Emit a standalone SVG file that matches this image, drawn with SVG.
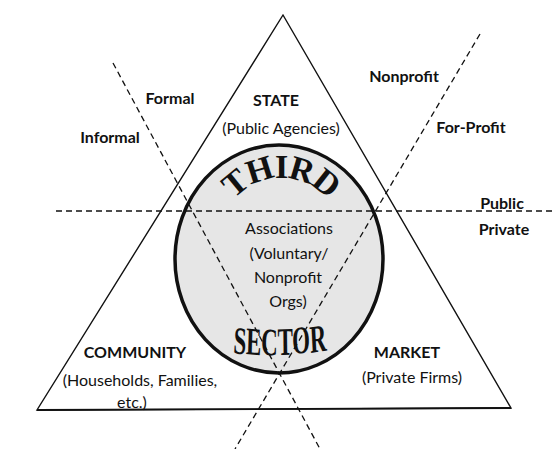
<svg xmlns="http://www.w3.org/2000/svg" width="556" height="449" viewBox="0 0 556 449">
  <style>
    .edge { fill: none; stroke: #111; stroke-width: 1.4; stroke-linejoin: miter; }
    .dash { fill: none; stroke: #111; stroke-width: 1.3; stroke-dasharray: 6 4; }
    .b { font-family: Lato, "Open Sans", "Liberation Sans", sans-serif; font-weight: bold; font-size: 16px; fill: #111; text-anchor: middle; }
    .r { font-family: Lato, "Open Sans", "Liberation Sans", sans-serif; font-size: 16px; fill: #111; text-anchor: middle; }
    .big { font-family: "Liberation Serif", "DejaVu Serif", serif; font-weight: bold; fill: #111; text-anchor: middle; }
  </style>
  <defs>
    <path id="arcTop" d="M 219,240 A 62 62 0 0 1 343,240"/>
  </defs>
  <rect width="556" height="449" fill="#ffffff"/>

  <g id="triangle">
    <path class="edge" d="M 283,15 L 511,408 L 37,410 Z"/>
    <line x1="37" y1="410" x2="511" y2="408" stroke="#111" stroke-width="1.9"/>
  </g>

  <g id="third-sector">
    <ellipse cx="279" cy="259" rx="104" ry="114" fill="#e6e6e6" stroke="#111" stroke-width="3.5"/>
    <text class="big" font-size="34" letter-spacing="-1"><textPath href="#arcTop" startOffset="50%">THIRD</textPath></text>
    <text class="r" x="289" y="234">Associations</text>
    <text class="r" x="289" y="259">(Voluntary/</text>
    <text class="r" x="288" y="283">Nonprofit</text>
    <text class="r" x="288" y="307">Orgs)</text>
    <text class="big" font-size="39" x="280" y="353" textLength="94" lengthAdjust="spacingAndGlyphs" dy="0 1 1 0 -1 -1" rotate="5 3 1 -1 -3 -5">SECTOR</text>
  </g>

  <g id="connectors">
    <line class="dash" x1="56" y1="211" x2="556" y2="211"/>
    <line class="dash" x1="113" y1="63" x2="320" y2="449"/>
    <line class="dash" x1="480" y1="34" x2="235" y2="449"/>
  </g>

  <g id="state">
    <text class="b" x="276" y="106">STATE</text>
    <text class="r" x="281" y="134">(Public Agencies)</text>
  </g>

  <g id="community">
    <text class="b" x="135" y="358">COMMUNITY</text>
    <text class="r" x="140" y="386">(Households, Families,</text>
    <text class="r" x="132" y="408">etc.)</text>
  </g>

  <g id="market">
    <text class="b" x="407" y="358">MARKET</text>
    <text class="r" x="412" y="383">(Private Firms)</text>
  </g>

  <g id="labels">
    <text class="b" x="170" y="104">Formal</text>
    <text class="b" x="110" y="143">Informal</text>
    <text class="b" x="404" y="82">Nonprofit</text>
    <text class="b" x="471" y="133">For-Profit</text>
    <text class="b" x="502" y="209">Public</text>
    <text class="b" x="504" y="235">Private</text>
  </g>
</svg>
